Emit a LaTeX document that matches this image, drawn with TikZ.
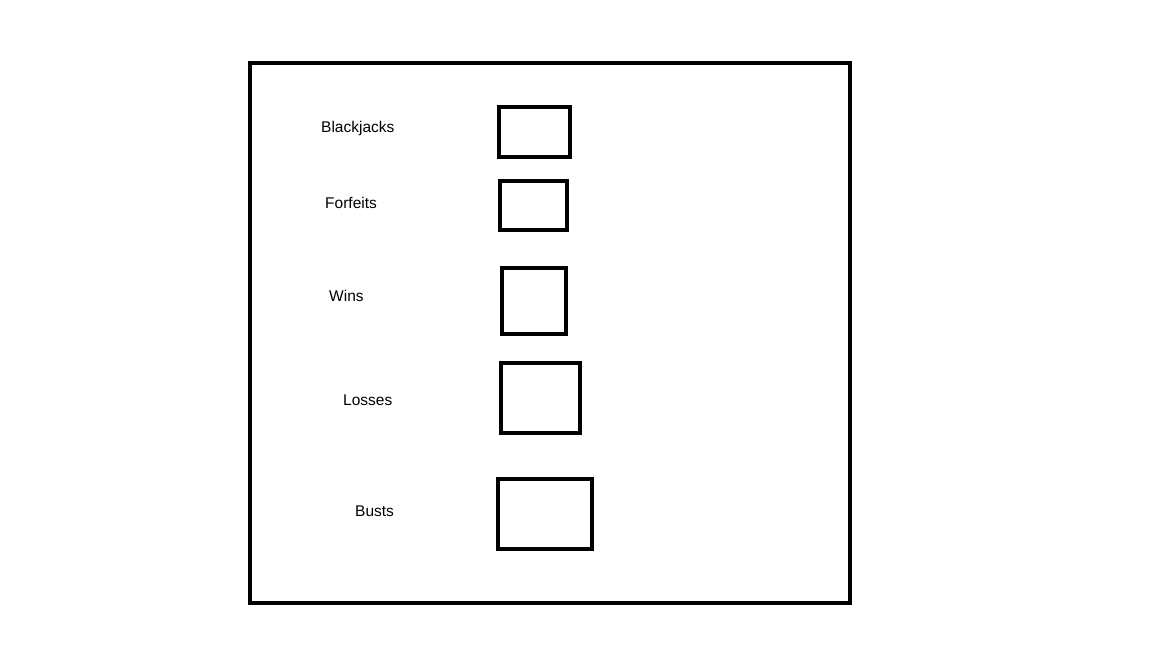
\documentclass[tikz,border=0pt]{standalone}
\usepackage{fontspec}
\setmainfont{Liberation Sans}
\begin{document}
\begin{tikzpicture}[x=1pt,y=-1pt,
  frame/.style={draw=black,line width=4pt},
  tally/.style={draw=black,line width=4pt},
  lbl/.style={anchor=west,inner sep=0pt,font=\fontsize{15.5}{18}\selectfont,text=black}]
\useasboundingbox[fill=white] (0,0) rectangle (1152,648);
\draw[frame] (250,63) rectangle (850,603);
\draw[tally] (498.5,107) rectangle (569.5,157);
\draw[tally] (500,181) rectangle (567,230);
\draw[tally] (502,268) rectangle (566,334);
\draw[tally] (501,363) rectangle (580,433);
\draw[tally] (498,479) rectangle (592,549);
\node[lbl] (bj) at (321,128) {Blackjacks};
\node[lbl] (ff) at (325,203) {Forfeits};
\node[lbl] (wi) at (329,296) {Wins};
\node[lbl] (lo) at (343,400) {Losses};
\node[lbl] (bu) at (355,511) {Busts};
\end{tikzpicture}
\end{document}
